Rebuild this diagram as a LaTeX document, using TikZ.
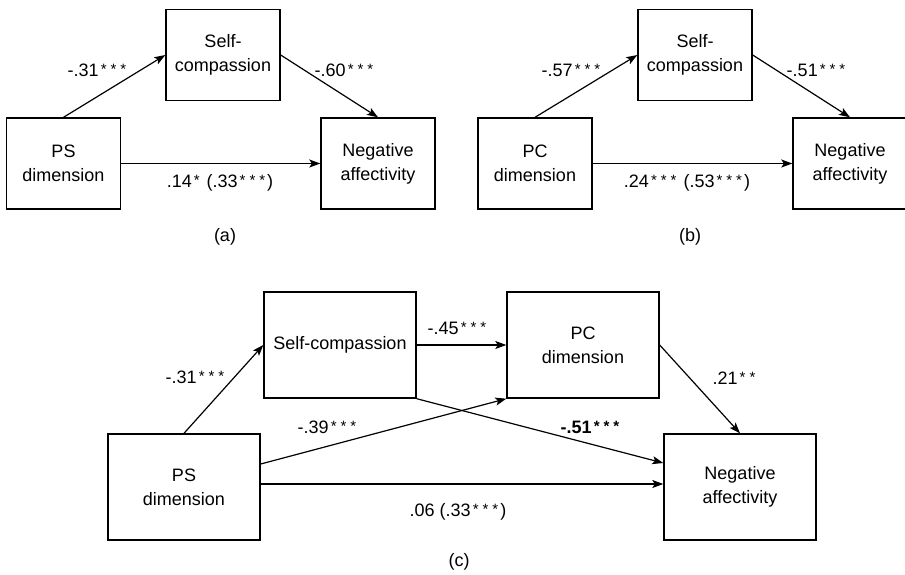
\documentclass[tikz,border=0pt]{standalone}
\usepackage{fontspec}
\setmainfont{Liberation Sans}
\usetikzlibrary{arrows.meta}
\newcommand{\sg}{\kern2pt\raisebox{2pt}{\fontsize{15pt}{15pt}\selectfont*}\kern2pt}
\tikzset{
  varbox/.style={draw,line width=1.4pt,align=center,inner sep=0pt},
  coef/.style={inner sep=0pt},
  >={Stealth[length=11pt,width=8pt,inset=2.5pt]}
}
\begin{document}
\begin{tikzpicture}[x=1pt,y=-1pt,font=\fontsize{18pt}{24pt}\selectfont]
  \useasboundingbox (0,0) rectangle (905,574);
  % boxes of (a) and (b)
  \begin{scope}[every node/.style={varbox,minimum width=114pt,minimum height=91pt}]
  \node (sca) at (223,55) {Self-\\compassion};
  \node (psa) at (63.5,163.5) {PS\\dimension};
  \node (naa) at (378,163.5) {Negative\\affectivity};
  \node (scb) at (695,55) {Self-\\compassion};
  \node (pcb) at (535,163.5) {PC\\dimension};
  \node (nab) at (850,163.5) {Negative\\affectivity};
  \end{scope}
  % boxes of (c)
  \begin{scope}[every node/.style={varbox,minimum width=152pt,minimum height=106pt}]
  \node (scc) at (340,345) {Self-compassion};
  \node (pcc) at (583,345) {PC\\dimension};
  \node (psc) at (184,487) {PS\\dimension};
  \node (nac) at (740,487) {Negative\\affectivity};
  \end{scope}
  \begin{scope}[every edge/.style={draw=black,line width=1.2pt,->}]
  \path (psa.north) edge (sca.west);
  \path (sca.east) edge (naa.north);
  \path (psa.east) edge (naa.west);
  \path (pcb.north) edge (scb.west);
  \path (scb.east) edge (nab.north);
  \path (pcb.east) edge (nab.west);
  \path (psc.north) edge (scc.west);
  \path (scc.east) edge (pcc.west);
  \path ([yshift=23pt]psc.east) edge (pcc.south west);
  \path (scc.south east) edge ([yshift=24pt]nac.west);
  \path (pcc.east) edge (nac.north);
  \path ([yshift=3pt]psc.east) edge ([yshift=3pt]nac.west);
  \end{scope}
  % path coefficients
  \begin{scope}[every node/.style={coef}]
  \node (ka1) at (98,70) {-.31\sg\sg\sg};
  \node (ka2) at (345,70) {-.60\sg\sg\sg};
  \node (ka3) at (220,183) {.14\sg{} (.33\sg\sg\sg)};
  \node (capa) at (225,237) {(a)};
  \node (kb1) at (572,70) {-.57\sg\sg\sg};
  \node (kb2) at (817,70) {-.51\sg\sg\sg};
  \node (kb3) at (687,183) {.24\sg\sg\sg{} (.53\sg\sg\sg)};
  \node (capb) at (690,237) {(b)};
  \node (kc1) at (196,377) {-.31\sg\sg\sg};
  \node (kc2) at (458,328) {-.45\sg\sg\sg};
  \node (kc3) at (328,427) {-.39\sg\sg\sg};
  \node (kc4) at (591,427) {\textbf{-.51\sg\sg\sg}};
  \node (kc5) at (735,378) {.21\sg\sg};
  \node (kc6) at (458,512) {.06 (.33\sg\sg\sg)};
  \node (capc) at (459,562) {(c)};
  \end{scope}
\end{tikzpicture}
\end{document}
